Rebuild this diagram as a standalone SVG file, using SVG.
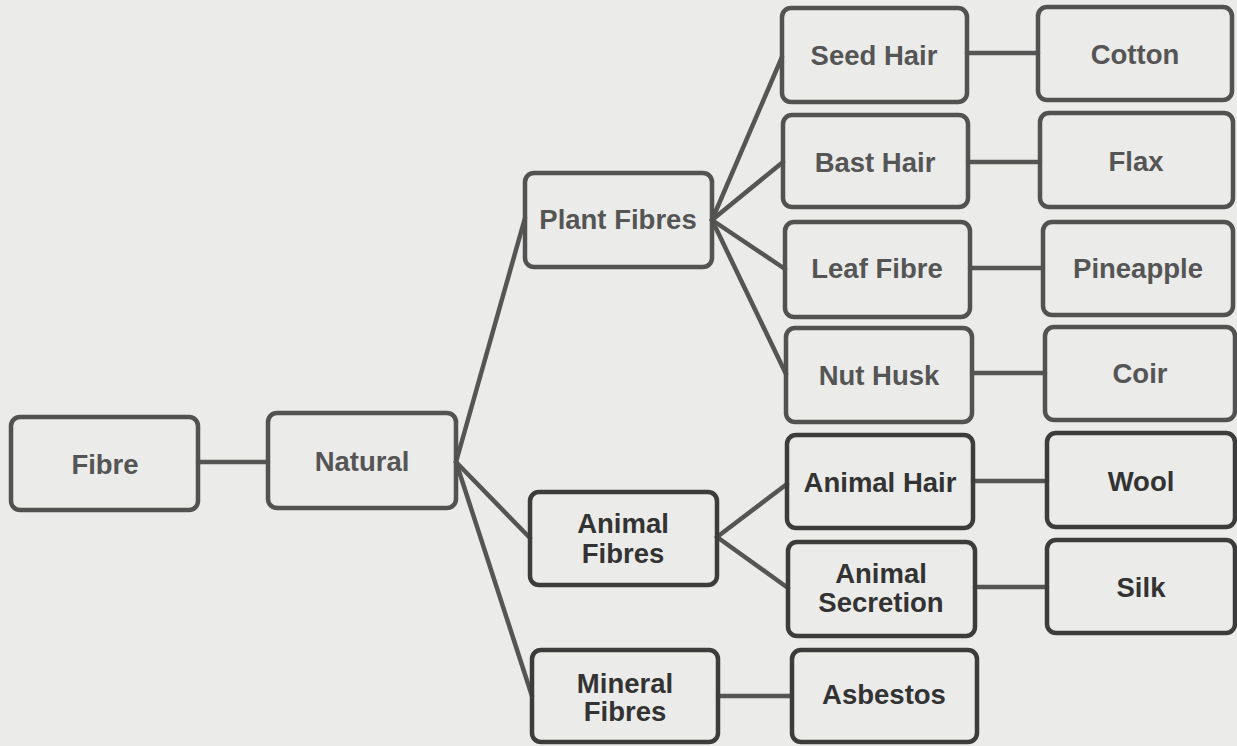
<svg xmlns="http://www.w3.org/2000/svg" width="1237" height="746" viewBox="0 0 1237 746">
<style>
.bg{fill:#ebebea}
.box{fill:none;stroke:#525252;stroke-width:4.5}
.dk .box{stroke:#3c3c3c}
.ln{fill:none;stroke:#555;stroke-width:4.5;stroke-linecap:round}
text{font-family:"Liberation Sans",Arial,sans-serif;font-weight:bold;font-size:27.5px;fill:#555;text-anchor:middle;dominant-baseline:central}
.dk text{fill:#333}
</style>
<rect class="bg" x="0" y="0" width="1237" height="746"/>
<g id="connectors">
<line class="ln" x1="198" y1="462" x2="268" y2="462"/>
<line class="ln" x1="456" y1="462" x2="525" y2="218"/>
<line class="ln" x1="456" y1="462" x2="530" y2="538"/>
<line class="ln" x1="456" y1="462" x2="532" y2="696"/>
<line class="ln" x1="712" y1="220" x2="782" y2="57"/>
<line class="ln" x1="712" y1="220" x2="783" y2="162"/>
<line class="ln" x1="712" y1="220" x2="785" y2="269"/>
<line class="ln" x1="712" y1="220" x2="786" y2="374"/>
<line class="ln" x1="717" y1="537" x2="787" y2="484"/>
<line class="ln" x1="717" y1="537" x2="788" y2="588"/>
<line class="ln" x1="718" y1="696" x2="792" y2="696"/>
<line class="ln" x1="967" y1="53" x2="1038" y2="53"/>
<line class="ln" x1="968" y1="162" x2="1040" y2="162"/>
<line class="ln" x1="970" y1="268" x2="1043" y2="268"/>
<line class="ln" x1="972" y1="373" x2="1045" y2="373"/>
<line class="ln" x1="973" y1="481" x2="1047" y2="481"/>
<line class="ln" x1="975" y1="587" x2="1047" y2="587"/>
</g>
<g id="fibre"><rect class="box" x="11" y="417" width="187" height="93" rx="9"/><text x="105" y="464">Fibre</text></g>
<g id="natural"><rect class="box" x="268" y="413" width="188" height="95" rx="9"/><text x="362" y="461">Natural</text></g>
<g id="plant-fibres"><rect class="box" x="525" y="173" width="187" height="94" rx="9"/><text x="618" y="219">Plant Fibres</text></g>
<g id="animal-fibres" class="dk"><rect class="box" x="530" y="492" width="187" height="93" rx="9"/><text x="623" y="523">Animal</text><text x="623" y="553">Fibres</text></g>
<g id="mineral-fibres" class="dk"><rect class="box" x="532" y="650" width="186" height="92" rx="9"/><text x="625" y="683">Mineral</text><text x="625" y="711">Fibres</text></g>
<g id="seed-hair"><rect class="box" x="782" y="8" width="185" height="94" rx="9"/><text x="874" y="55">Seed Hair</text></g>
<g id="bast-hair"><rect class="box" x="783" y="115" width="185" height="92" rx="9"/><text x="875" y="162">Bast Hair</text></g>
<g id="leaf-fibre"><rect class="box" x="785" y="222" width="185" height="95" rx="9"/><text x="877" y="268">Leaf Fibre</text></g>
<g id="nut-husk"><rect class="box" x="786" y="328" width="186" height="94" rx="9"/><text x="879" y="375">Nut Husk</text></g>
<g id="animal-hair" class="dk"><rect class="box" x="787" y="435" width="186" height="93" rx="9"/><text x="880" y="482">Animal Hair</text></g>
<g id="animal-secretion" class="dk"><rect class="box" x="788" y="542" width="187" height="94" rx="9"/><text x="881" y="573">Animal</text><text x="881" y="602">Secretion</text></g>
<g id="asbestos" class="dk"><rect class="box" x="792" y="650" width="185" height="92" rx="9"/><text x="884" y="694">Asbestos</text></g>
<g id="cotton"><rect class="box" x="1038" y="7" width="194" height="93" rx="9"/><text x="1135" y="54">Cotton</text></g>
<g id="flax"><rect class="box" x="1040" y="113" width="193" height="94" rx="9"/><text x="1136" y="161">Flax</text></g>
<g id="pineapple"><rect class="box" x="1043" y="222" width="190" height="93" rx="9"/><text x="1138" y="268">Pineapple</text></g>
<g id="coir"><rect class="box" x="1045" y="327" width="190" height="93" rx="9"/><text x="1140" y="373">Coir</text></g>
<g id="wool" class="dk"><rect class="box" x="1047" y="433" width="188" height="94" rx="9"/><text x="1141" y="481">Wool</text></g>
<g id="silk" class="dk"><rect class="box" x="1047" y="540" width="188" height="93" rx="9"/><text x="1141" y="587">Silk</text></g>
</svg>
